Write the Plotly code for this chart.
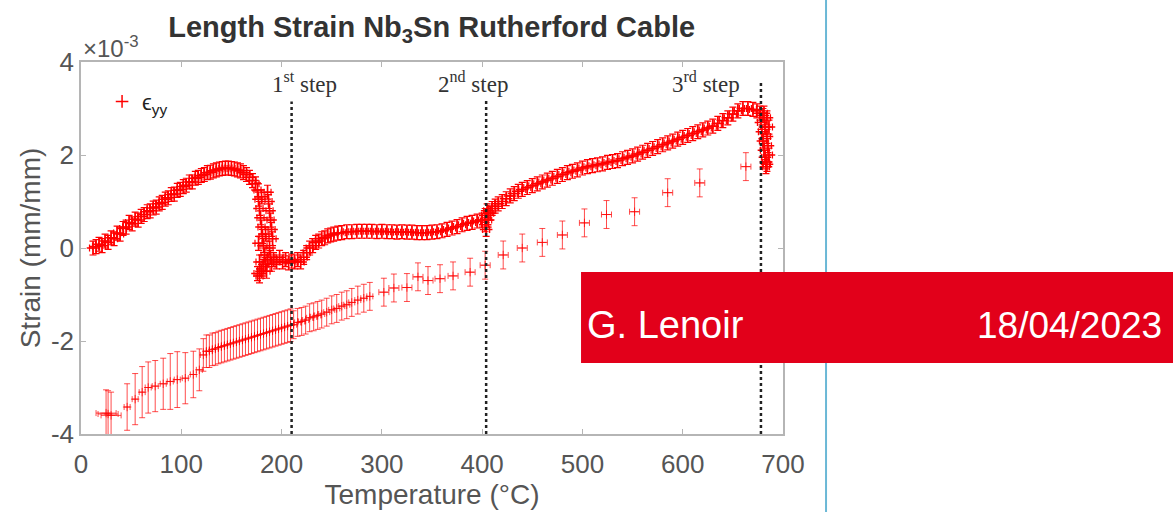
import plotly.graph_objects as go

# ---------------- data (strain in units of 1e-3 mm/mm) ----------------
heat_T = [12, 15, 18, 21, 24, 27, 30, 33, 36, 39, 42, 45, 48, 51, 54, 57, 60, 63, 66, 69,
          72, 75, 78, 81, 84, 87, 90, 93, 96, 99, 102, 105, 108, 111, 114, 117, 120, 123, 126, 129,
          132, 135, 138, 141, 144, 147, 150, 153, 156, 159, 162, 165, 168, 171, 174,
          176, 177, 178, 179, 180, 181, 182, 183, 184, 185, 176, 178, 180, 182, 186, 187, 188, 189,
          190, 191, 188, 189, 190, 186, 184, 180, 177, 178,
          192, 195, 198, 201, 204, 207, 210, 213, 216, 219, 222, 225, 228, 231, 234, 237, 240, 243,
          246, 249, 252, 256, 260, 265, 270, 275, 280, 285, 290, 295, 300, 305, 310, 315, 320, 325,
          330, 335, 340, 345, 350, 355, 360, 365, 370, 375, 380, 385, 390, 395, 400,
          403, 403, 404, 405, 406, 408, 410, 413, 416, 420, 424, 428, 432, 436, 440, 445, 450, 455,
          460, 465, 470, 475, 480, 485, 490, 495, 500, 505, 510, 515, 520, 525, 530, 535, 540, 545,
          550, 555, 560, 565, 570, 575, 580, 585, 590, 595, 600, 605, 610, 615, 620, 625, 630, 635,
          640, 645, 650, 655, 660, 665, 670, 674, 677,
          678, 679, 680, 681, 682, 683, 684, 680, 682, 684, 685, 686, 683, 681, 684, 686]
heat_strain = [0.00, 0.03, 0.08, 0.05, 0.15, 0.12, 0.22, 0.20, 0.32, 0.30, 0.42, 0.45, 0.55, 0.52,
               0.62, 0.60, 0.68, 0.72, 0.78, 0.80, 0.86, 0.88, 0.95, 0.98, 1.05, 1.08, 1.15, 1.16,
               1.24, 1.26, 1.32, 1.35, 1.42, 1.42, 1.50, 1.52, 1.56, 1.58, 1.62, 1.63, 1.66, 1.68,
               1.70, 1.71, 1.72, 1.72, 1.71, 1.70, 1.68, 1.66, 1.62, 1.58, 1.52, 1.45, 1.38,
               1.25, 1.05, 0.85, 0.65, 0.45, 0.25, 0.05, -0.15, -0.35, -0.50, -0.55, -0.60, -0.50,
               -0.40, 1.20, 1.00, 0.80, 0.60, 0.40, 0.20, 0.00, -0.20, -0.35, -0.25, 0.30, 1.10,
               0.10, -0.30,
               -0.25, -0.30, -0.20, -0.30, -0.25, -0.32, -0.28, -0.30, -0.25, -0.30, -0.20, -0.10,
               0.00, 0.05, 0.12, 0.15, 0.20, 0.22, 0.26, 0.28, 0.30, 0.32, 0.33, 0.35, 0.35, 0.36,
               0.36, 0.36, 0.36, 0.35, 0.36, 0.35, 0.35, 0.34, 0.35, 0.34, 0.34, 0.33, 0.33, 0.33,
               0.34, 0.35, 0.37, 0.40, 0.43, 0.46, 0.50, 0.53, 0.55, 0.58, 0.60,
               0.50, 0.70, 0.40, 0.80, 0.60, 0.75, 0.85, 0.90, 0.95, 1.00, 1.06, 1.12, 1.17, 1.22,
               1.26, 1.30, 1.34, 1.38, 1.42, 1.46, 1.50, 1.54, 1.58, 1.62, 1.65, 1.68, 1.72, 1.75,
               1.77, 1.79, 1.81, 1.84, 1.86, 1.88, 1.92, 1.95, 1.98, 2.02, 2.06, 2.10, 2.14, 2.18,
               2.22, 2.26, 2.30, 2.34, 2.38, 2.42, 2.46, 2.50, 2.54, 2.58, 2.62, 2.68, 2.74, 2.80,
               2.88, 2.95, 3.00, 3.00, 2.98, 2.95, 2.90,
               2.70, 2.50, 2.30, 2.10, 1.95, 1.85, 1.80, 2.85, 2.60, 2.40, 2.20, 2.00, 1.75, 2.90,
               2.80, 2.60]
heat_T_err = 3.5
heat_strain_err = 0.15

cool_T = [27, 30, 25, 46, 54, 61, 67, 74, 82, 89, 96, 104, 112, 118,
          122, 125, 128, 131, 134, 137, 140, 143, 146, 149, 152, 155, 158, 161, 164, 167, 170,
          173, 176, 179, 182, 185, 188, 191, 194, 197, 200, 203, 206, 209,
          212, 216, 220, 224, 228, 232, 236, 240, 245, 250, 255, 260, 265, 270, 276, 282, 288,
          302, 312, 325, 336, 346, 358, 371, 388, 403, 421, 440, 460, 480, 502, 524, 552, 585,
          617, 663]
cool_strain = [-3.57, -3.60, -3.55, -3.42, -3.25, -3.10, -3.00, -2.97, -2.92, -2.87, -2.83,
               -2.80, -2.72, -2.62,
               -2.30, -2.22, -2.22, -2.18, -2.17, -2.14, -2.12, -2.10, -2.08, -2.06, -2.04, -2.02,
               -2.00, -1.98, -1.96, -1.94, -1.92, -1.90, -1.88, -1.86, -1.84, -1.82, -1.80, -1.78,
               -1.76, -1.74, -1.72, -1.70, -1.68, -1.66,
               -1.65, -1.60, -1.58, -1.55, -1.50, -1.48, -1.45, -1.42, -1.38, -1.33, -1.30, -1.25,
               -1.22, -1.17, -1.12, -1.08, -1.04,
               -0.95, -0.86, -0.85, -0.62, -0.70, -0.66, -0.60, -0.52, -0.37, -0.15, 0.00, 0.12,
               0.28, 0.54, 0.72, 0.78, 1.19, 1.40, 1.75]
cool_T_err = [10, 10, 10, 3, 3, 3, 3, 3, 3, 3, 3, 3, 3, 3] + [3] * 30 + [3] * 17 + [5] * 19
cool_strain_err = [0.5, 0.5, 0.5, 0.5, 0.55, 0.55, 0.55, 0.55, 0.55, 0.6, 0.6, 0.55, 0.5, 0.45] \
    + [0.35] * 30 + [0.3] * 17 + [0.3] * 19

step_T = [210, 404, 678]
step_top = [3.15, 3.2, 3.55]
step_label_T = [223, 391, 623]
step_labels = ["1<sup>st</sup> step", "2<sup>nd</sup> step", "3<sup>rd</sup> step"]
x_ticks = [0, 100, 200, 300, 400, 500, 600, 700]
y_ticks = [-4, -2, 0, 2, 4]

RED = "#ff0000"
SANS = "Arial, Liberation Sans, sans-serif"
SERIF = "Times New Roman, Liberation Serif, serif"

fig = go.Figure()
fig.add_trace(go.Scatter(
    x=heat_T, y=heat_strain, mode="markers", name="ϵ<sub>yy</sub>", legendgroup="e",
    marker=dict(symbol="cross-thin", size=9, line=dict(width=1.5, color=RED), color=RED),
    error_y=dict(type="constant", value=heat_strain_err, color=RED, thickness=1.2, width=3.5),
    error_x=dict(type="constant", value=heat_T_err, color=RED, thickness=1.2, width=3.5),
))
fig.add_trace(go.Scatter(
    x=cool_T, y=cool_strain, mode="markers", name="ϵ<sub>yy</sub>", legendgroup="e",
    showlegend=False,
    marker=dict(symbol="cross-thin", size=6, line=dict(width=1, color="rgba(255,0,0,0.75)"),
                color="rgba(255,0,0,0.75)"),
    error_y=dict(type="data", array=cool_strain_err, color="rgba(255,0,0,0.7)", thickness=1, width=3),
    error_x=dict(type="data", array=cool_T_err, color="rgba(255,0,0,0.7)", thickness=1, width=3),
))

for t, top in zip(step_T, step_top):
    fig.add_shape(type="line", xref="x", yref="y", x0=t, x1=t, y0=-4, y1=top,
                  line=dict(color="#222222", width=2.5, dash="dot"))
for t, lab in zip(step_label_T, step_labels):
    fig.add_annotation(x=t, y=3.57, xref="x", yref="y", text=lab, showarrow=False,
                       font=dict(family=SERIF, size=23, color="#333333"))

# slide decorations
fig.add_shape(type="line", xref="paper", yref="paper", x0=1.0613, x1=1.0613, y0=-0.22, y1=1.18,
              line=dict(color="#6bb8d6", width=2), layer="above")
fig.add_shape(type="rect", xref="paper", yref="paper", x0=0.7123, x1=1.56, y0=0.1909, y1=0.4355,
              fillcolor="#e2001a", line=dict(width=0), layer="above")
fig.add_annotation(x=0.718, y=0.293, xref="paper", yref="paper", xanchor="left", yanchor="middle",
                   text="G. Lenoir", showarrow=False, font=dict(family=SANS, size=38, color="white"))
fig.add_annotation(x=1.5427, y=0.293, xref="paper", yref="paper", xanchor="right", yanchor="middle",
                   text="18/04/2023", showarrow=False, font=dict(family=SANS, size=37, color="white"))
fig.add_annotation(x=0.0, y=1.04, xref="paper", yref="paper", xanchor="left", yanchor="middle",
                   text="×10<sup>-3</sup>", showarrow=False, font=dict(family=SANS, size=24, color="#555555"))

axis_common = dict(showline=True, linecolor="#b5b5b5", linewidth=1.5, mirror="ticks",
                   ticks="inside", ticklen=5, tickcolor="#b5b5b5", showgrid=False, zeroline=False,
                   tickfont=dict(family=SANS, size=26, color="#555555"))
fig.update_layout(
    width=1173, height=512,
    margin=dict(l=81, r=390, t=62, b=78),
    paper_bgcolor="white", plot_bgcolor="white",
    title=dict(text="Length Strain Nb<sub>3</sub>Sn Rutherford Cable", x=0.368, xanchor="center",
               y=0.947, yanchor="middle",
               font=dict(family=SANS, size=29, color="#333333", weight="bold")),
    xaxis=dict(range=[0, 700], tickvals=x_ticks, ticktext=[str(v) for v in x_ticks],
               ticklabelstandoff=6,
               title=dict(text="Temperature (°C)", standoff=0,
                          font=dict(family=SANS, size=28, color="#555555")),
               **axis_common),
    yaxis=dict(range=[-4, 4], tickvals=y_ticks, ticktext=[str(v) for v in y_ticks],
               title=dict(text="Strain (mm/mm)", standoff=2,
                          font=dict(family=SANS, size=28, color="#555555")),
               **axis_common),
    legend=dict(x=0.03, y=0.95, xanchor="left", yanchor="top", bgcolor="rgba(0,0,0,0)",
                font=dict(family=SANS, size=22, color="#222222")),
    showlegend=True,
)

fig.write_html("out.html", config={"displayModeBar": False},
               post_script="document.body.style.margin='0';")
